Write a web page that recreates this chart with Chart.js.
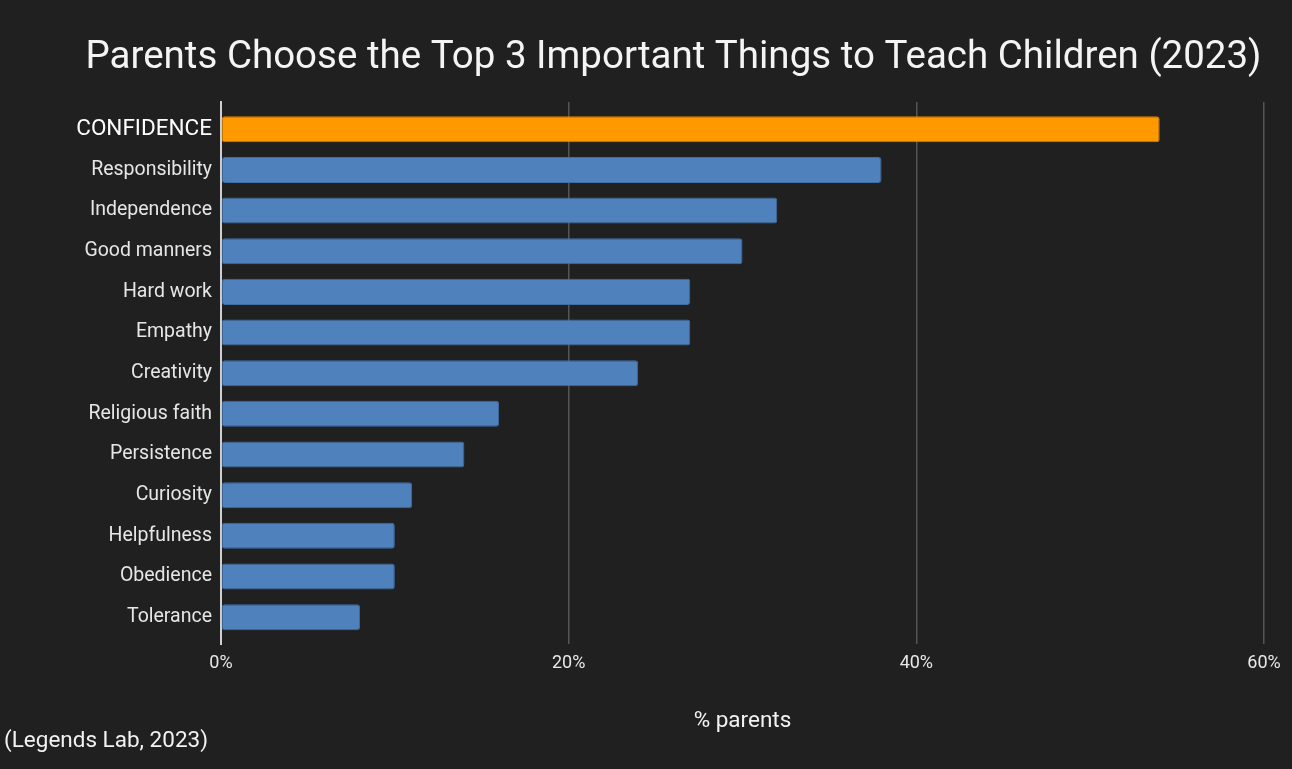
<!DOCTYPE html>
<html>
<head>
<meta charset="utf-8">
<script src="https://cdn.jsdelivr.net/npm/chart.js@4"></script>
<style>
  html, body { margin: 0; padding: 0; background: #202020; }
  #wrap { width: 1292px; height: 769px; position: relative; }
</style>
</head>
<body>
<div id="wrap"><canvas id="chart"></canvas></div>
<script>
// data
var traits = ['CONFIDENCE', 'Responsibility', 'Independence', 'Good manners', 'Hard work',
  'Empathy', 'Creativity', 'Religious faith', 'Persistence', 'Curiosity',
  'Helpfulness', 'Obedience', 'Tolerance'];
var percentParents = [54, 38, 32, 30, 27, 27, 24, 16, 14, 11, 10, 10, 8];
var xTicks = [0, 20, 40, 60];

var chartTitle = 'Parents Choose the Top 3 Important Things to Teach Children (2023)';
var sourceNote = '(Legends Lab, 2023)';

var BLUE = '#4f81bd';
var ORANGE = '#ff9900';

// background, title and source note
var decor = {
  id: 'decor',
  beforeDraw: function(chart) {
    var c = chart.ctx;
    c.save();
    c.fillStyle = '#202020';
    c.fillRect(0, 0, chart.width, chart.height);
    c.restore();
  },
  afterDraw: function(chart) {
    var c = chart.ctx;
    c.save();
    c.textBaseline = 'middle';
    c.textAlign = 'center';
    c.font = '38.5px Roboto';
    c.fillStyle = '#f4f4f4';
    c.fillText(chartTitle, 673.5, 58);
    c.textAlign = 'left';
    c.font = '22.5px Roboto';
    c.fillStyle = '#f2f2f2';
    c.fillText(sourceNote, 4, 741);
    c.restore();
  }
};

function init() {
  var ctx = document.getElementById('chart');
  new Chart(ctx, {
    type: 'bar',
    data: {
      labels: traits,
      datasets: [{
        label: '% parents',
        data: percentParents,
        backgroundColor: traits.map(function(t, i) { return i === 0 ? ORANGE : BLUE; }),
        borderColor: traits.map(function(t, i) { return i === 0 ? '#d88300' : '#3f6ea6'; }),
        borderWidth: 1,
        borderRadius: 3,
        borderSkipped: false,
        categoryPercentage: 1,
        barPercentage: 0.64
      }]
    },
    plugins: [decor],
    options: {
      indexAxis: 'y',
      responsive: true,
      maintainAspectRatio: false,
      animation: false,
      layout: { padding: { left: 40, right: 28, top: 102, bottom: 30 } },
      plugins: {
        legend: { display: false },
        tooltip: { enabled: false },
        title: { display: false }
      },
      scales: {
        x: {
          min: 0,
          max: 60,
          afterBuildTicks: function(s) {
            s.ticks = xTicks.map(function(v) { return { value: v }; });
          },
          grid: { color: '#555555', lineWidth: 1.5, drawTicks: false },
          border: { display: false },
          ticks: {
            color: '#e8e8e8',
            font: { family: 'Roboto', size: 18 },
            padding: 8,
            callback: function(v) { return v + '%'; }
          },
          title: {
            display: true,
            text: '% parents',
            color: '#f2f2f2',
            font: { family: 'Roboto', size: 22.5 },
            padding: { top: 26, bottom: 4 }
          }
        },
        y: {
          afterFit: function(s) { s.width = 181; },
          afterBuildTicks: function(s) {
            // a little extra room above the first and below the last bar
            s._startValue = -0.67;
            s._valueRange = traits.length + 0.34;
          },
          grid: { display: false, drawTicks: false },
          border: { display: true, color: '#cfcfcf', width: 2 },
          ticks: {
            padding: 9,
            color: function(c) { return c.index === 0 ? '#ffffff' : '#e6e6e6'; },
            font: function(c) {
              return c.index === 0
                ? { family: 'Roboto', size: 22.5 }
                : { family: 'Roboto', size: 19.5 };
            }
          }
        }
      }
    }
  });
}

document.addEventListener('DOMContentLoaded', init);
</script>
</body>
</html>
